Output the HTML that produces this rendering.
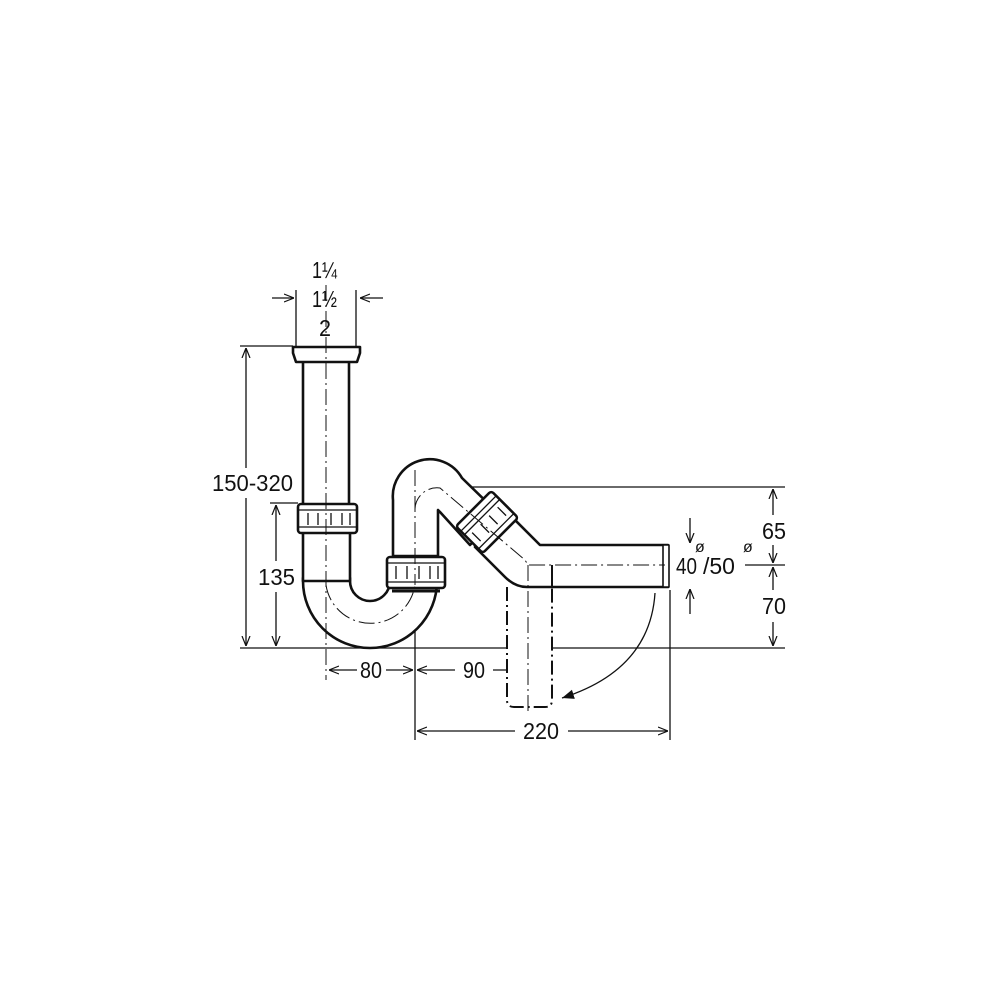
<!DOCTYPE html>
<html><head><meta charset="utf-8"><style>
html,body{margin:0;padding:0;background:#fff;width:1000px;height:1000px;overflow:hidden}
svg{display:block}
text{font-family:"Liberation Sans",sans-serif;fill:#111}
</style></head><body>
<svg width="1000" height="1000" viewBox="0 0 1000 1000" xmlns="http://www.w3.org/2000/svg">
<defs>
<marker id="ar" viewBox="0 0 10 10" refX="10" refY="5" markerWidth="10" markerHeight="10" markerUnits="userSpaceOnUse" orient="auto"><path d="M0,1 L10,5 L0,9" fill="none" stroke="#111" stroke-width="1.2"/></marker>
<marker id="af" viewBox="0 0 10 10" refX="10" refY="5" markerWidth="12" markerHeight="12" markerUnits="userSpaceOnUse" orient="auto"><path d="M0,1 L10,5 L0,9z" fill="#111"/></marker>
</defs>
<g stroke="#111" fill="none" stroke-width="1.3">
<line x1="240" y1="648" x2="785" y2="648"/>
<line x1="437" y1="487" x2="785" y2="487"/>
<line x1="240" y1="346" x2="293" y2="346"/>
<line x1="270" y1="503" x2="298" y2="503"/>
<line x1="246" y1="468" x2="246" y2="348" marker-end="url(#ar)"/>
<line x1="246" y1="498" x2="246" y2="646" marker-end="url(#ar)"/>
<line x1="276" y1="561" x2="276" y2="505" marker-end="url(#ar)"/>
<line x1="276" y1="592" x2="276" y2="646" marker-end="url(#ar)"/>
<line x1="773" y1="515" x2="773" y2="489" marker-end="url(#ar)"/>
<line x1="773" y1="545" x2="773" y2="563" marker-end="url(#ar)"/>
<line x1="773" y1="590" x2="773" y2="567" marker-end="url(#ar)"/>
<line x1="773" y1="622" x2="773" y2="646" marker-end="url(#ar)"/>
<line x1="745" y1="565" x2="785" y2="565"/>
<line x1="690" y1="518" x2="690" y2="543" marker-end="url(#ar)"/>
<line x1="690" y1="614" x2="690" y2="589" marker-end="url(#ar)"/>
<line x1="415" y1="585" x2="415" y2="740"/>
<line x1="670" y1="590" x2="670" y2="740"/>
<line x1="357" y1="670" x2="329" y2="670" marker-end="url(#ar)"/>
<line x1="386" y1="670" x2="413" y2="670" marker-end="url(#ar)"/>
<line x1="455" y1="670" x2="417" y2="670" marker-end="url(#ar)"/>
<line x1="493" y1="670" x2="526" y2="670" marker-end="url(#ar)"/>
<line x1="515" y1="731" x2="417" y2="731" marker-end="url(#ar)"/>
<line x1="568" y1="731" x2="668" y2="731" marker-end="url(#ar)"/>
<line x1="272" y1="298" x2="294" y2="298" marker-end="url(#ar)"/>
<line x1="383" y1="298" x2="360" y2="298" marker-end="url(#ar)"/>
<line x1="296" y1="290" x2="296" y2="346"/>
<line x1="356" y1="290" x2="356" y2="346"/>
<path d="M655,593 Q650,670 562,698" marker-end="url(#af)"/>
</g>
<g stroke="#111" stroke-width="2.6" fill="#fff" stroke-linejoin="round">
<path d="M303,578 L303,581 A67,67 0 0 0 437,581 L437,585 L390,585 L390,581 A20,20 0 0 1 350,581 L350,578 Z"/>
<rect x="303" y="360" width="46" height="145"/>
<rect x="303" y="531" width="47" height="50"/>
<path d="M293,347 L360,347 L360,353 L357,362 L296,362 L293,353 Z"/>
<path d="M507,587 L507,700 Q507,707 514,707 L545,707 Q552,707 552,700 L552,587" stroke-dasharray="14,4,2,4" stroke-width="2"/>
<path d="M393,556 L393,500 A37,37 0 0 1 462,478 L500,515 L470,545 L440,512 L438,510 L438,556 Z"/>
<path d="M505,510 L540,545 L668,545 L668,587 L527,587 Q515,587 505,577 L475,547 Z"/>
<rect x="663" y="545" width="6" height="42" stroke-width="1.6"/>
<line x1="552" y1="565" x2="552" y2="587" stroke-width="2"/>
<g>
<rect x="298" y="504" width="59" height="29" rx="3"/>
<line x1="298" y1="510" x2="357" y2="510" stroke-width="1.3"/>
<line x1="298" y1="527" x2="357" y2="527" stroke-width="1.3"/>
<path d="M308,513 v12 M318,513 v12 M331,513 v12 M342,513 v12 M350,513 v12" stroke-width="1.3"/>
</g>
<g>
<rect x="387" y="557" width="58" height="31" rx="3"/>
<line x1="387" y1="563" x2="445" y2="563" stroke-width="1.3"/>
<line x1="387" y1="582" x2="445" y2="582" stroke-width="1.3"/>
<path d="M396,566 v13 M407,566 v13 M419,566 v13 M430,566 v13 M438,566 v13" stroke-width="1.3"/>
<line x1="392" y1="591" x2="440" y2="591" stroke-width="3"/>
</g>
<g transform="translate(487,522) rotate(45)">
<rect x="-19" y="-25" width="38" height="50" rx="3"/>
<line x1="-12" y1="-25" x2="-12" y2="25" stroke-width="1.3"/>
<line x1="-7" y1="-25" x2="-7" y2="25" stroke-width="1.3"/>
<line x1="13" y1="-25" x2="13" y2="25" stroke-width="1.3"/>
<path d="M-3,-18 h12 M-3,-6 h12 M-3,6 h12 M-3,18 h12" stroke-width="1.3"/>
</g>
</g>
<g stroke="#111" stroke-width="1" fill="none" stroke-dasharray="16,4,2,4">
<line x1="326" y1="285" x2="326" y2="680"/>
<line x1="415" y1="470" x2="415" y2="585"/>
<path d="M326,585 A45,45 0 0 0 415,585"/>
<path d="M415,510 A22,22 0 0 1 440,488 L525,560 L528,565 L665,565"/>
<line x1="528" y1="565" x2="528" y2="712"/>
</g>
<g font-size="23">
<text x="312" y="278" textLength="25" lengthAdjust="spacingAndGlyphs">1¼</text>
<text x="312" y="307" textLength="25" lengthAdjust="spacingAndGlyphs">1½</text>
<text x="319" y="336" textLength="12" lengthAdjust="spacingAndGlyphs">2</text>
<text x="212" y="491" textLength="81" lengthAdjust="spacingAndGlyphs">150-320</text>
<text x="258" y="585" textLength="37" lengthAdjust="spacingAndGlyphs">135</text>
<text x="360" y="678" textLength="22" lengthAdjust="spacingAndGlyphs">80</text>
<text x="463" y="678" textLength="22" lengthAdjust="spacingAndGlyphs">90</text>
<text x="523" y="739" textLength="36" lengthAdjust="spacingAndGlyphs">220</text>
<text x="762" y="539" textLength="24" lengthAdjust="spacingAndGlyphs">65</text>
<text x="762" y="614" textLength="24" lengthAdjust="spacingAndGlyphs">70</text>
<text x="676" y="574" textLength="21" lengthAdjust="spacingAndGlyphs">40</text>
<text x="703" y="574">/50</text>
</g>
<g font-size="16">
<text x="695" y="552">ø</text>
<text x="743" y="552">ø</text>
</g>
</svg>
</body></html>
